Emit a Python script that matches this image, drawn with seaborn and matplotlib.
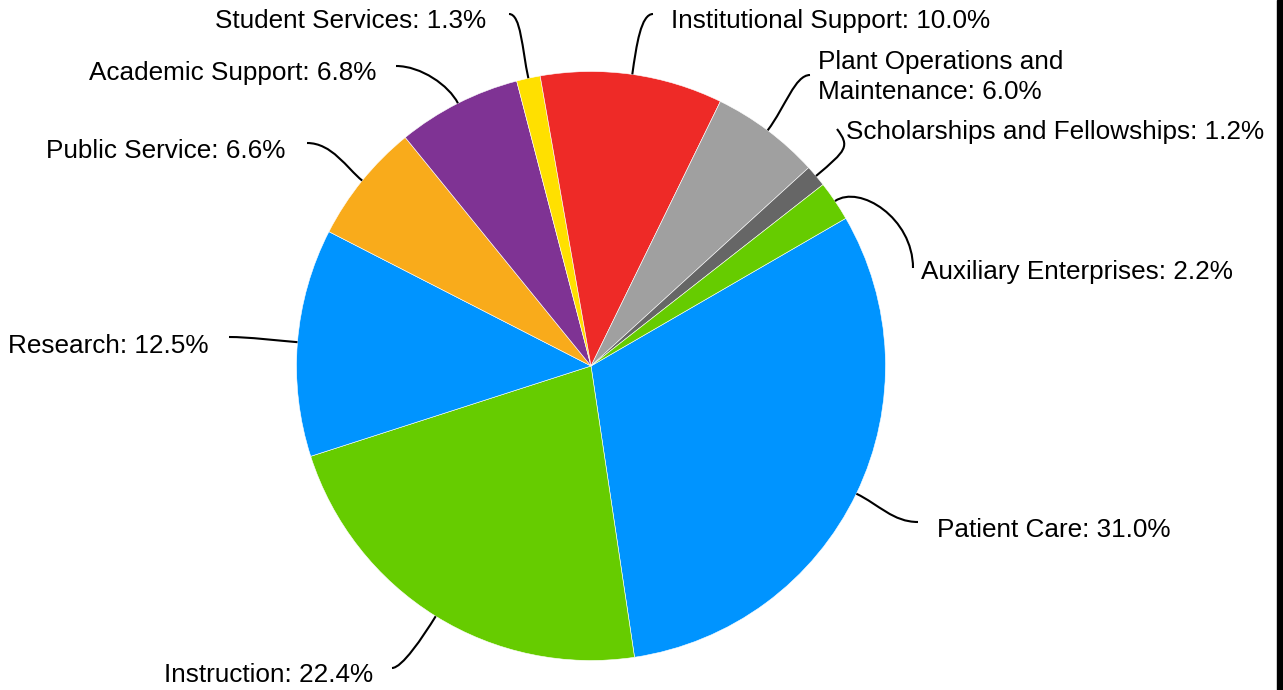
import numpy as np
import matplotlib
matplotlib.use("Agg")
import matplotlib.pyplot as plt
from matplotlib.path import Path
from matplotlib.patches import PathPatch, Rectangle
import seaborn as sns

# data, clockwise from Patient Care
categories = ["Patient Care", "Instruction", "Research", "Public Service",
              "Academic Support", "Student Services", "Institutional Support",
              "Plant Operations and\nMaintenance", "Scholarships and Fellowships",
              "Auxiliary Enterprises"]
shares = [31.0, 22.4, 12.5, 6.6, 6.8, 1.3, 10.0, 6.0, 1.2, 2.2]
colors = ["#0094ff", "#66cc00", "#0094ff", "#f9ab1b", "#7f3394",
          "#ffe000", "#ee2a27", "#a0a0a0", "#666666", "#66cc00"]

# label layout in pixels: text x, text y, alignment, connector end, end tangent, d1, d2
label_layout = [
    (937, 530, "left", (918, 522), (-1, 0), 25, 25),
    (373, 675, "right", (392, 668), (1, 0), 25, 10),
    (208, 346, "right", (229, 337), (1, 0), 20, 20),
    (285, 151, "right", (307, 143), (1, 0), 20, 25),
    (376, 73, "right", (396, 66), (1, 0), 20, 25),
    (486, 21, "right", (509, 14), (1, 0), 30, 12),
    (671, 21, "left", (653, 14), (-1, 0), 30, 12),
    (818, 77, "left", (810, 75), (-1, 0), 30, 15),
    (846, 132, "left", (837, 129), (0.6, 0.8), 40, 22),
    (921, 272, "left", (913, 268), (0, -1), 30, 50),
]

W, H = 1283, 690
CX, CY, R = 591, 366, 294.5

sns.set_theme(style="white")
plt.rcParams["font.family"] = ["Liberation Sans", "DejaVu Sans"]

fig = plt.figure(figsize=(W / 100, H / 100), dpi=100)
ax = fig.add_axes([0, 0, 1, 1])

wedges, _ = ax.pie(shares, colors=colors, startangle=30.1, counterclock=False,
                   center=(CX, H - CY), radius=R, frame=True,
                   wedgeprops=dict(edgecolor="white", linewidth=0.4))

ax.set_xlim(0, W)
ax.set_ylim(0, H)
ax.set_aspect("equal")
ax.axis("off")

for w, name, val, lay in zip(wedges, categories, shares, label_layout):
    tx, ty, ha, end, tan, d1, d2 = lay
    mid = np.deg2rad((w.theta1 + w.theta2) / 2)
    u = np.array([np.cos(mid), np.sin(mid)])
    a = np.array([CX, H - CY]) + R * u
    e = np.array([end[0], H - end[1]], dtype=float)
    t = np.array([tan[0], -tan[1]], dtype=float)
    verts = [a, a + u * d1, e + t * d2, e]
    path = Path(verts, [Path.MOVETO, Path.CURVE4, Path.CURVE4, Path.CURVE4])
    ax.add_patch(PathPatch(path, fill=False, edgecolor="black", lw=1.5))
    ax.text(tx, H - ty, f"{name}: {val:.1f}%", ha=ha, va="center",
            fontsize=18.8, color="black", linespacing=1.3)

fig.patches.append(Rectangle((1277 / W, 0), 6 / W, 1, transform=fig.transFigure,
                             color="black", zorder=10))

fig.savefig("out.png", dpi=100)
